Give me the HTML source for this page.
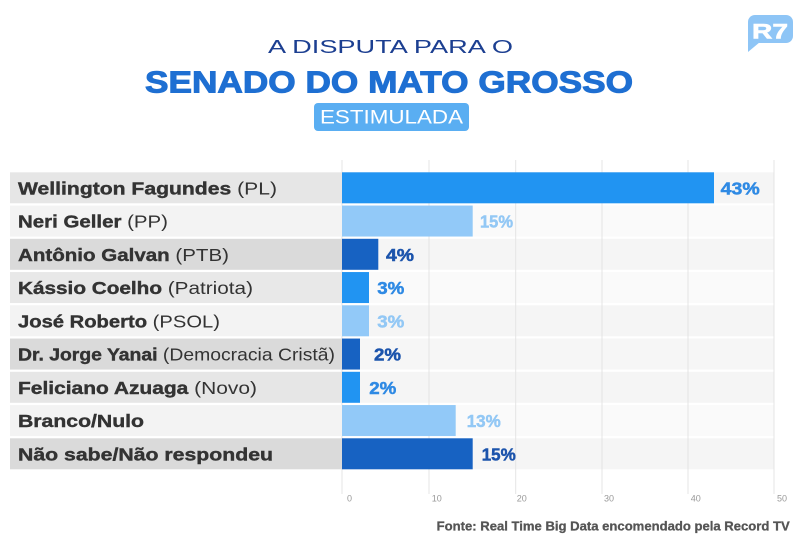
<!DOCTYPE html>
<html>
<head>
<meta charset="utf-8">
<style>
html,body{margin:0;padding:0;background:#fff;}
svg{display:block;}
text{font-family:"Liberation Sans",sans-serif;}
</style>
</head>
<body>
<svg width="800" height="546" viewBox="0 0 800 546" xmlns="http://www.w3.org/2000/svg">
<rect width="800" height="546" fill="#fff"/>

<!-- Title -->
<text x="268" y="53" font-size="18" fill="#1c3f91" textLength="245" lengthAdjust="spacingAndGlyphs">A DISPUTA PARA O</text>
<text x="145" y="92.7" font-size="30.5" font-weight="bold" fill="#1e6fd2" stroke="#1e6fd2" stroke-width="1" textLength="488" lengthAdjust="spacingAndGlyphs">SENADO DO MATO GROSSO</text>
<rect x="314" y="103" width="155" height="28" rx="4" fill="#5aaef2"/>
<text x="320" y="123.3" font-size="19" fill="#ffffff" textLength="143" lengthAdjust="spacingAndGlyphs">ESTIMULADA</text>

<!-- R7 logo -->
<rect x="748" y="15" width="45" height="28" rx="7" fill="#8ec5f6"/>
<path d="M748 34 L748 52 L760 42 Z" fill="#8ec5f6"/>
<text x="752" y="38.5" font-size="21" font-weight="bold" fill="#fff" stroke="#fff" stroke-width="0.6" textLength="36" lengthAdjust="spacingAndGlyphs">R7</text>

<!-- right stripes -->
<g>
<rect x="342" y="172.3" width="432" height="31" fill="#f5f5f5"/>
<rect x="342" y="205.55" width="432" height="31" fill="#fafafa"/>
<rect x="342" y="238.8" width="432" height="31" fill="#f5f5f5"/>
<rect x="342" y="272.05" width="432" height="31" fill="#fafafa"/>
<rect x="342" y="305.3" width="432" height="31" fill="#f5f5f5"/>
<rect x="342" y="338.55" width="432" height="31" fill="#f6f6f6"/>
<rect x="342" y="371.8" width="432" height="31" fill="#f5f5f5"/>
<rect x="342" y="405.05" width="432" height="31" fill="#fafafa"/>
<rect x="342" y="438.3" width="432" height="31" fill="#f5f5f5"/>
</g>

<!-- gridlines -->
<g stroke="#e4e4e4" stroke-width="1">
<line x1="342" y1="160" x2="342" y2="494"/>
<line x1="429" y1="160" x2="429" y2="494"/>
<line x1="515.7" y1="160" x2="515.7" y2="494"/>
<line x1="602" y1="160" x2="602" y2="494"/>
<line x1="688" y1="160" x2="688" y2="494"/>
<line x1="774" y1="160" x2="774" y2="494"/>
</g>

<!-- label backgrounds -->
<g>
<rect x="10" y="172.3" width="332" height="31" fill="#e6e6e6"/>
<rect x="10" y="205.55" width="332" height="31" fill="#f3f3f3"/>
<rect x="10" y="238.8" width="332" height="31" fill="#dadada"/>
<rect x="10" y="272.05" width="332" height="31" fill="#e8e8e8"/>
<rect x="10" y="305.3" width="332" height="31" fill="#f3f3f3"/>
<rect x="10" y="338.55" width="332" height="31" fill="#dadada"/>
<rect x="10" y="371.8" width="332" height="31" fill="#e6e6e6"/>
<rect x="10" y="405.05" width="332" height="31" fill="#f3f3f3"/>
<rect x="10" y="438.3" width="332" height="31" fill="#dadada"/>
</g>

<!-- bars -->
<g>
<rect x="342" y="172.3" width="372" height="31" fill="#2194f2"/>
<rect x="342" y="205.55" width="130.7" height="31" fill="#92c9f8"/>
<rect x="342" y="238.8" width="36.3" height="31" fill="#1762c2"/>
<rect x="342" y="272.05" width="27" height="31" fill="#2194f2"/>
<rect x="342" y="305.3" width="27" height="31" fill="#92c9f8"/>
<rect x="342" y="338.55" width="18" height="31" fill="#1762c2"/>
<rect x="342" y="371.8" width="18" height="31" fill="#2194f2"/>
<rect x="342" y="405.05" width="113.7" height="31" fill="#92c9f8"/>
<rect x="342" y="438.3" width="130.7" height="31" fill="#1762c2"/>
</g>

<!-- row labels -->
<g font-size="17.5" fill="#333">
<text x="18" y="194.3" textLength="259" lengthAdjust="spacingAndGlyphs"><tspan font-weight="bold" stroke="#333" stroke-width="0.4">Wellington Fagundes</tspan> (PL)</text>
<text x="18" y="227.6" textLength="150" lengthAdjust="spacingAndGlyphs"><tspan font-weight="bold" stroke="#333" stroke-width="0.4">Neri Geller</tspan> (PP)</text>
<text x="18" y="260.8" textLength="211" lengthAdjust="spacingAndGlyphs"><tspan font-weight="bold" stroke="#333" stroke-width="0.4">Antônio Galvan</tspan> (PTB)</text>
<text x="18" y="294.1" textLength="235" lengthAdjust="spacingAndGlyphs"><tspan font-weight="bold" stroke="#333" stroke-width="0.4">Kássio Coelho</tspan> (Patriota)</text>
<text x="18" y="327.3" textLength="202" lengthAdjust="spacingAndGlyphs"><tspan font-weight="bold" stroke="#333" stroke-width="0.4">José Roberto</tspan> (PSOL)</text>
<text x="18" y="360.6" textLength="317" lengthAdjust="spacingAndGlyphs"><tspan font-weight="bold" stroke="#333" stroke-width="0.4">Dr. Jorge Yanai</tspan> (Democracia Cristã)</text>
<text x="18" y="393.8" textLength="239" lengthAdjust="spacingAndGlyphs"><tspan font-weight="bold" stroke="#333" stroke-width="0.4">Feliciano Azuaga</tspan> (Novo)</text>
<text x="18" y="427.1" textLength="126" lengthAdjust="spacingAndGlyphs" font-weight="bold" stroke="#333" stroke-width="0.4">Branco/Nulo</text>
<text x="18" y="460.3" textLength="255" lengthAdjust="spacingAndGlyphs" font-weight="bold" stroke="#333" stroke-width="0.4">Não sabe/Não respondeu</text>
</g>

<!-- value labels -->
<g font-size="17.5" font-weight="bold" stroke-width="0.5">
<text x="720.7" y="194.3" fill="#2f8ae4" stroke="#2f8ae4" textLength="39" lengthAdjust="spacingAndGlyphs">43%</text>
<text x="480" y="227.6" fill="#93c8f5" stroke="#93c8f5" textLength="33" lengthAdjust="spacingAndGlyphs">15%</text>
<text x="386" y="260.8" fill="#1c54ac" stroke="#1c54ac" textLength="28" lengthAdjust="spacingAndGlyphs">4%</text>
<text x="377.3" y="294.1" fill="#2f8ae4" stroke="#2f8ae4" textLength="27" lengthAdjust="spacingAndGlyphs">3%</text>
<text x="377.3" y="327.3" fill="#93c8f5" stroke="#93c8f5" textLength="27" lengthAdjust="spacingAndGlyphs">3%</text>
<text x="374" y="360.6" fill="#1c54ac" stroke="#1c54ac" textLength="27" lengthAdjust="spacingAndGlyphs">2%</text>
<text x="369.3" y="393.8" fill="#2f8ae4" stroke="#2f8ae4" textLength="27" lengthAdjust="spacingAndGlyphs">2%</text>
<text x="466.7" y="427.1" fill="#93c8f5" stroke="#93c8f5" textLength="34" lengthAdjust="spacingAndGlyphs">13%</text>
<text x="481.7" y="460.3" fill="#1c54ac" stroke="#1c54ac" textLength="34" lengthAdjust="spacingAndGlyphs">15%</text>
</g>

<!-- tick labels -->
<g font-size="9" fill="#999">
<text x="347" y="501.5">0</text>
<text x="431.7" y="501.5">10</text>
<text x="516.7" y="501.5">20</text>
<text x="604" y="501.5">30</text>
<text x="690.7" y="501.5">40</text>
<text x="777" y="501.5">50</text>
</g>

<!-- source -->
<text x="436.7" y="530.7" font-size="12.5" font-weight="bold" fill="#555" stroke="#555" stroke-width="0.3" textLength="353" lengthAdjust="spacingAndGlyphs">Fonte: Real Time Big Data encomendado pela Record TV</text>
</svg>
</body>
</html>
